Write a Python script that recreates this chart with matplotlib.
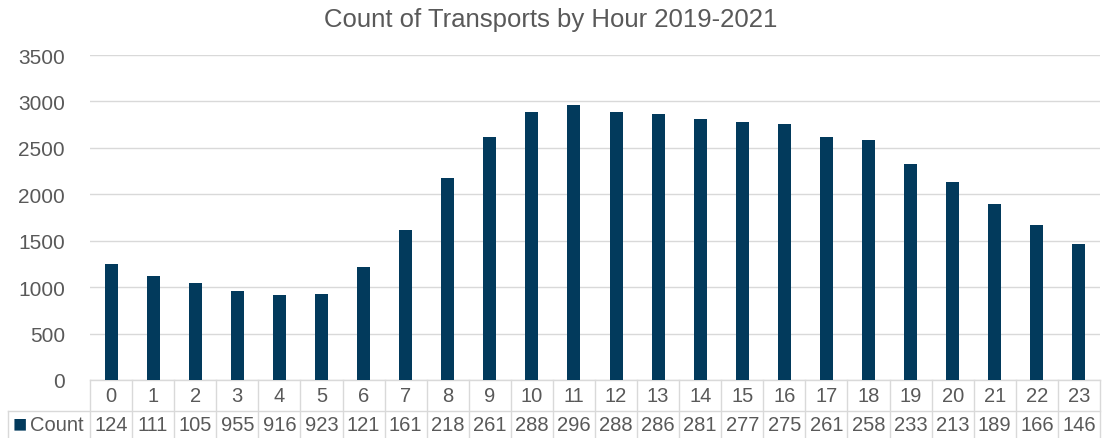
import matplotlib
matplotlib.use("Agg")
import matplotlib.pyplot as plt
from matplotlib.transforms import blended_transform_factory

plt.rcParams['font.family'] = ['Liberation Sans', 'DejaVu Sans']

hours = [str(h) for h in range(24)]
counts = [1245, 1115, 1050, 955, 916, 923, 1215, 1615, 2180, 2615, 2885, 2960,
          2885, 2860, 2815, 2775, 2755, 2615, 2585, 2330, 2135, 1895, 1665, 1460]
series_name = "Count"
title = "Count of Transports by Hour 2019-2021"
yticks = [0, 500, 1000, 1500, 2000, 2500, 3000, 3500]

bar_color = "#023A5C"
text_color = "#595959"
grid_color = "#D9D9D9"
line_color = "#D9D9D9"

W, H = 1102, 439
fig = plt.figure(figsize=(W / 100, H / 100), dpi=100)
left, right, top, bottom = 90, 1100, 56, 381
ax = fig.add_axes([left / W, (H - bottom) / H, (right - left) / W, (bottom - top) / H])

x = list(range(len(counts)))
ax.bar(x, counts, width=0.31, color=bar_color, zorder=3)
ax.set_xlim(-0.5, len(counts) - 0.5)
ax.set_ylim(0, 3500)
ax.set_yticks(yticks)
ax.set_yticklabels([str(t) for t in yticks], fontsize=15, color=text_color)
ax.tick_params(axis='y', length=0, pad=18)
ax.set_xticks([])
ax.grid(axis='y', color=grid_color, linewidth=1, zorder=0)
for s in ax.spines.values():
    s.set_visible(False)

fig.text(0.5, 1 - 20 / H, title, ha='center', va='center', fontsize=18.5, color=text_color)

# data table below the axes
trans = blended_transform_factory(ax.transData, ax.transAxes)
tax = blended_transform_factory(ax.transAxes, ax.transAxes)
ph = bottom - top
pw = right - left
row1 = -31 / ph
row2 = -(H - bottom + 2) / ph
lw = 1.0
for i in range(len(counts) + 1):
    ax.plot([i - 0.5, i - 0.5], [0, row2], transform=trans, color=line_color, lw=lw, clip_on=False)
ax.plot([-0.5, len(counts) - 0.5], [0, 0], transform=trans, color=line_color, lw=lw, clip_on=False)
ax.plot([-(left - 8) / pw, 1], [row1, row1], transform=tax, color=line_color, lw=lw, clip_on=False)
ax.plot([-(left - 8) / pw, -(left - 8) / pw], [row1, row2], transform=tax, color=line_color, lw=lw, clip_on=False)

y_h = -15.5 / ph
y_c = -(425.5 - bottom) / ph
for i, (h, v) in enumerate(zip(hours, counts)):
    ax.text(i, y_h, h, transform=trans, ha='center', va='center', fontsize=14.5, color=text_color)
    ax.text(i, y_c, str(v)[:3], transform=trans, ha='center', va='center',
            fontsize=14.5, color=text_color, clip_on=False)

# legend key in table
ax.text(-(left - 13) / pw, y_c, "\u25A0", transform=tax, fontsize=17, color=bar_color, ha='left', va='center')
ax.text(-(left - 30) / pw, y_c, series_name, transform=tax, fontsize=14.5, color=text_color, ha='left', va='center')

fig.savefig("out.png", dpi=100)
